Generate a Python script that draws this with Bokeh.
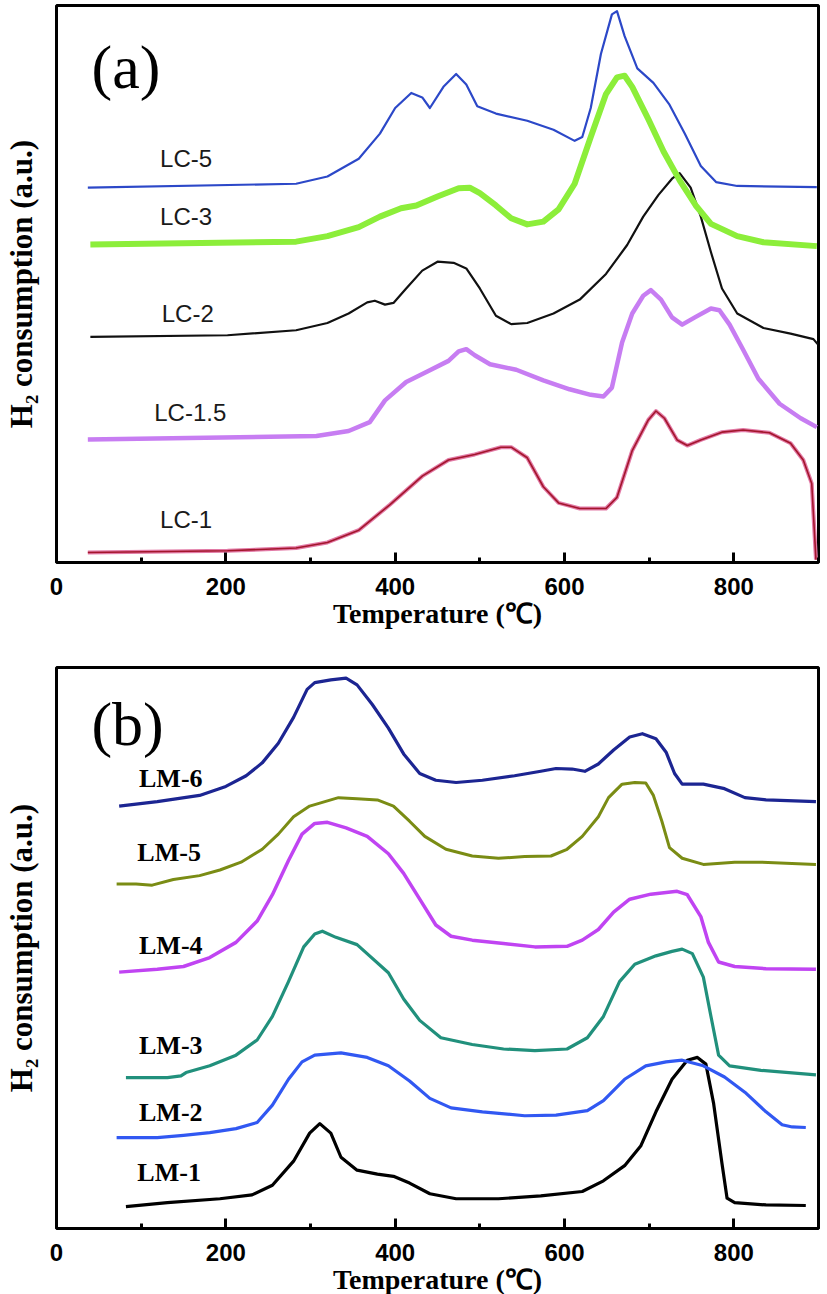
from bokeh.plotting import figure
from bokeh.layouts import column
from bokeh.models import Range1d, FixedTicker
from bokeh.core.properties import value
from bokeh.embed import file_html
from bokeh.resources import INLINE

# ---------------- data: panel (a) ----------------
LC5_T = [37, 283, 320, 357, 382, 400, 419, 432, 441, 457, 472, 484, 497, 519, 556, 587, 612, 621, 631, 643, 656, 662, 671, 686, 705, 724, 742, 761, 779, 804, 898]
LC5_Y = [67.3, 68.0, 69.3, 72.5, 77.0, 81.6, 84.3, 83.5, 81.6, 85.4, 87.7, 85.8, 81.9, 80.6, 79.3, 77.7, 75.7, 76.4, 81.6, 91.3, 98.4, 99.0, 94.5, 88.7, 86.1, 82.2, 77.0, 71.2, 68.3, 67.6, 67.4]

LC3_T = [40, 283, 320, 357, 382, 407, 425, 450, 475, 488, 500, 519, 537, 556, 575, 593, 612, 631, 649, 662, 671, 680, 699, 717, 736, 755, 773, 804, 835, 898]
LC3_Y = [57.1, 57.6, 58.6, 60.2, 62.1, 63.6, 64.1, 65.7, 67.2, 67.3, 66.3, 64.1, 61.8, 60.7, 61.2, 63.4, 68.0, 76.4, 84.1, 87.1, 87.4, 85.4, 79.6, 73.8, 68.6, 64.1, 60.8, 58.6, 57.5, 56.8]

LC2_T = [40, 202, 283, 320, 345, 367, 376, 388, 398, 413, 432, 450, 469, 484, 500, 519, 537, 556, 587, 618, 649, 674, 693, 711, 727, 736, 749, 761, 773, 786, 804, 835, 867, 894, 899]
LC2_Y = [40.5, 40.8, 41.7, 43.0, 44.7, 46.7, 47.0, 46.3, 46.6, 49.2, 52.4, 54.0, 53.8, 52.8, 49.2, 44.3, 42.8, 43.0, 44.7, 47.2, 51.8, 57.0, 62.1, 66.0, 68.9, 69.9, 67.3, 62.1, 55.7, 49.2, 44.7, 42.1, 41.1, 40.1, 39.2]

LC15_T = [37, 307, 345, 370, 388, 413, 438, 463, 475, 484, 494, 512, 543, 575, 606, 631, 646, 656, 668, 680, 693, 702, 714, 727, 739, 755, 773, 783, 795, 811, 829, 854, 879, 898]
LC15_Y = [22.1, 22.7, 23.6, 25.2, 29.1, 32.4, 34.3, 36.2, 37.9, 38.3, 37.2, 35.6, 34.6, 32.7, 31.1, 30.1, 29.8, 31.4, 39.5, 44.7, 47.9, 48.9, 47.2, 44.0, 42.7, 44.1, 45.6, 45.3, 42.7, 38.2, 33.0, 28.5, 25.9, 24.3]

LC1_T = [37, 202, 283, 320, 357, 394, 432, 463, 494, 525, 537, 556, 575, 593, 618, 649, 662, 680, 699, 708, 718, 733, 745, 761, 786, 811, 842, 867, 882, 892, 897]
LC1_Y = [1.8, 2.1, 2.6, 3.6, 5.8, 10.4, 15.5, 18.4, 19.4, 20.7, 20.7, 18.8, 13.6, 10.7, 9.7, 9.7, 11.7, 20.1, 25.6, 27.2, 25.9, 22.0, 21.0, 22.0, 23.4, 23.8, 23.3, 21.4, 18.4, 14.2, 0.5]

LC_NAMES = ["LC-5", "LC-3", "LC-2", "LC-1.5", "LC-1"]
LC_LABEL_T = [153, 153, 155, 158, 153]
LC_LABEL_Y = [72.5, 62.1, 44.7, 26.9, 7.8]

# ---------------- data: panel (b) ----------------
LM6_T = [74, 119, 169, 200, 224, 243, 262, 280, 296, 305, 324, 342, 355, 373, 392, 410, 429, 448, 472, 503, 541, 572, 590, 609, 624, 640, 658, 677, 692, 708, 720, 730, 739, 764, 789, 813, 838, 897]
LM6_Y = [75.3, 76.1, 77.2, 78.8, 80.7, 83.0, 86.5, 91.1, 96.1, 97.3, 97.8, 98.1, 96.9, 93.4, 89.2, 84.6, 81.1, 79.9, 79.5, 79.9, 80.7, 81.5, 82.0, 81.9, 81.5, 82.8, 85.3, 87.6, 88.2, 87.3, 84.9, 81.1, 79.2, 79.2, 78.4, 76.8, 76.4, 76.1]

LM5_T = [71, 94, 113, 138, 169, 193, 218, 243, 262, 280, 299, 317, 333, 355, 379, 398, 417, 435, 460, 491, 522, 553, 584, 603, 621, 640, 652, 668, 683, 696, 705, 715, 724, 739, 764, 801, 832, 897]
LM5_Y = [61.4, 61.4, 61.2, 62.2, 62.9, 63.9, 65.3, 67.6, 70.3, 73.4, 75.3, 76.1, 76.8, 76.6, 76.4, 75.3, 72.6, 69.9, 67.6, 66.4, 66.0, 66.3, 66.4, 67.6, 69.9, 73.4, 76.8, 79.2, 79.5, 79.4, 77.2, 72.6, 67.9, 66.0, 64.9, 65.3, 65.3, 64.9]

LM4_T = [74, 119, 150, 181, 212, 237, 255, 274, 290, 305, 320, 342, 367, 392, 410, 429, 448, 466, 491, 528, 565, 603, 621, 640, 658, 677, 702, 733, 745, 761, 770, 782, 801, 838, 897]
LM4_Y = [45.7, 46.2, 46.7, 48.3, 51.0, 54.8, 59.5, 65.6, 70.3, 72.2, 72.4, 71.4, 69.9, 66.8, 63.3, 58.7, 54.1, 52.1, 51.4, 50.8, 50.2, 50.3, 51.4, 53.3, 56.4, 58.7, 59.6, 60.1, 59.5, 55.6, 51.0, 47.5, 46.7, 46.3, 46.2]

LM3_T = [82, 131, 147, 153, 181, 212, 237, 255, 274, 292, 305, 314, 330, 355, 392, 410, 429, 454, 491, 528, 565, 603, 627, 646, 665, 683, 708, 727, 739, 751, 764, 773, 782, 795, 832, 897]
LM3_Y = [26.9, 26.9, 27.2, 27.8, 29.0, 30.9, 33.6, 37.8, 44.0, 50.2, 52.5, 53.0, 51.9, 50.6, 45.6, 40.9, 37.1, 34.0, 32.8, 32.0, 31.7, 32.0, 34.0, 37.8, 44.0, 47.1, 48.6, 49.4, 49.8, 49.0, 44.8, 37.8, 30.9, 29.0, 28.2, 27.4]

LM2_T = [71, 119, 150, 181, 212, 237, 255, 274, 290, 305, 336, 367, 392, 417, 441, 466, 503, 553, 590, 627, 646, 671, 696, 720, 739, 764, 789, 813, 838, 857, 869, 885]
LM2_Y = [16.2, 16.2, 16.6, 17.1, 17.8, 18.9, 22.0, 26.6, 29.7, 30.9, 31.3, 30.5, 29.0, 26.3, 23.2, 21.5, 20.8, 20.1, 20.2, 21.0, 22.8, 26.6, 29.0, 29.7, 30.0, 29.0, 27.0, 24.3, 20.8, 18.5, 18.1, 18.0]

LM1_T = [82, 131, 193, 231, 255, 280, 299, 311, 324, 336, 355, 379, 398, 417, 441, 472, 522, 572, 621, 646, 671, 690, 708, 727, 745, 757, 767, 776, 786, 792, 801, 838, 885]
LM1_Y = [3.9, 4.6, 5.3, 6.0, 7.7, 12.0, 17.0, 18.7, 17.0, 12.7, 10.4, 9.7, 9.3, 8.1, 6.2, 5.3, 5.3, 5.8, 6.6, 8.5, 11.2, 14.7, 20.8, 26.6, 30.0, 30.5, 29.3, 22.4, 11.6, 5.4, 4.6, 4.2, 4.1]

LM_NAMES = ["LM-6", "LM-5", "LM-4", "LM-3", "LM-2", "LM-1"]
LM_LABEL_T = [135, 133, 135, 135, 135, 133]
LM_LABEL_Y = [80.3, 67.0, 50.4, 32.6, 20.7, 10.0]

X_TICKS = [0, 200, 400, 600, 800]
X_MINOR = [100, 300, 500, 700, 900]
X_TITLE = "Temperature (\u2103)"
Y_TITLE = "H\u2082 consumption (a.u.)"


def make_panel(top_border, frame_h):
    p = figure(frame_width=762, frame_height=frame_h,
               min_border_left=56, min_border_right=2, min_border_top=top_border,
               x_range=Range1d(0, 900), y_range=Range1d(0, 100),
               output_backend="svg", toolbar_location=None, tools="")
    p.background_fill_color = "white"
    p.border_fill_color = "white"
    p.outline_line_color = "black"
    p.outline_line_width = 3
    p.xgrid.visible = False
    p.ygrid.visible = False

    xa = p.xaxis[0]
    xa.ticker = FixedTicker(ticks=X_TICKS, minor_ticks=X_MINOR)
    xa.axis_line_color = None
    xa.major_tick_in = 10
    xa.major_tick_out = 0
    xa.minor_tick_in = 5
    xa.minor_tick_out = 0
    xa.major_tick_line_width = 3
    xa.minor_tick_line_width = 3
    xa.major_tick_line_color = "black"
    xa.minor_tick_line_color = "black"
    xa.major_label_text_font = "Liberation Sans"
    xa.major_label_text_font_style = "bold"
    xa.major_label_text_font_size = "24px"
    xa.major_label_text_color = "black"
    xa.major_label_standoff = 15
    xa.axis_label = X_TITLE
    xa.axis_label_text_font = "Liberation Serif"
    xa.axis_label_text_font_style = "bold"
    xa.axis_label_text_font_size = "28px"
    xa.axis_label_text_color = "black"
    xa.axis_label_standoff = 0

    ya = p.yaxis[0]
    ya.ticker = FixedTicker(ticks=[])
    ya.axis_line_color = None
    ya.major_tick_line_color = None
    ya.minor_tick_line_color = None
    ya.major_label_text_font_size = "0px"
    ya.major_tick_out = 0
    ya.major_label_standoff = 0
    ya.axis_label = Y_TITLE
    ya.axis_label_text_font = "Liberation Serif"
    ya.axis_label_text_font_style = "bold"
    ya.axis_label_text_font_size = "31px"
    ya.axis_label_text_color = "black"
    ya.axis_label_standoff = 18
    return p


# ---------------- panel (a) ----------------
pa = make_panel(5, 557)
pa.line(LC1_T, LC1_Y, line_color="#e27aa6", line_width=4, line_join="round")
pa.line(LC1_T, LC1_Y, line_color="#a3162c", line_width=1.6, line_join="round")
pa.line(LC15_T, LC15_Y, line_color="#c77df2", line_width=4.5, line_join="round")
pa.line(LC2_T, LC2_Y, line_color="#111111", line_width=2.2, line_join="round")
pa.line(LC3_T, LC3_Y, line_color="#8cee3a", line_width=6, line_join="round")
pa.line(LC5_T, LC5_Y, line_color="#2c48c8", line_width=2.2, line_join="round")
pa.text(x=LC_LABEL_T, y=LC_LABEL_Y, text=LC_NAMES, text_font=value("Liberation Sans"),
        text_font_size="24px", text_color="#1a1a1a", text_align="center", text_baseline="middle")
pa.text(x=[82], y=[89.0], text=["(a)"], text_font=value("Liberation Serif"),
        text_font_size="62px", text_color="black", text_align="center", text_baseline="middle")

# ---------------- panel (b) ----------------
pb = make_panel(36, 561)
pb.line(LM1_T, LM1_Y, line_color="#000000", line_width=3.2, line_join="round")
pb.line(LM2_T, LM2_Y, line_color="#3158f2", line_width=3.2, line_join="round")
pb.line(LM3_T, LM3_Y, line_color="#21907c", line_width=3.2, line_join="round")
pb.line(LM4_T, LM4_Y, line_color="#c044f2", line_width=3.5, line_join="round")
pb.line(LM5_T, LM5_Y, line_color="#7a8c14", line_width=3, line_join="round")
pb.line(LM6_T, LM6_Y, line_color="#1c2592", line_width=3.2, line_join="round")
pb.text(x=LM_LABEL_T, y=LM_LABEL_Y, text=LM_NAMES, text_font=value("Liberation Serif"),
        text_font_style="bold", text_font_size="26px", text_color="black",
        text_align="center", text_baseline="middle")
pb.text(x=[84], y=[90.0], text=["(b)"], text_font=value("Liberation Serif"),
        text_font_size="62px", text_color="black", text_align="center", text_baseline="middle")

layout = column(pa, pb, spacing=0)
open("out.html", "w").write(file_html(layout, INLINE))
